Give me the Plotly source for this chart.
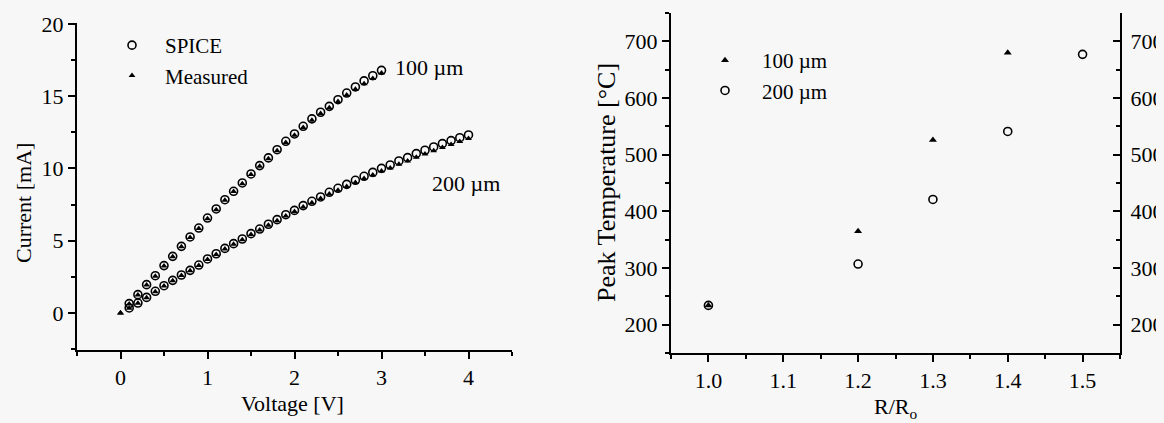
import plotly.graph_objects as go

# ---------------- data: left panel (I-V curves) ----------------
v_spice_100 = [0.1, 0.2, 0.3, 0.4, 0.5, 0.6, 0.7, 0.8, 0.9, 1.0,
               1.1, 1.2, 1.3, 1.4, 1.5, 1.6, 1.7, 1.8, 1.9, 2.0,
               2.1, 2.2, 2.3, 2.4, 2.5, 2.6, 2.7, 2.8, 2.9, 3.0]
i_spice_100 = [0.65, 1.27, 1.96, 2.58, 3.28, 3.92, 4.61, 5.26, 5.88, 6.57,
               7.20, 7.84, 8.42, 9.00, 9.62, 10.20, 10.73, 11.30, 11.88, 12.39,
               12.92, 13.43, 13.89, 14.30, 14.76, 15.22, 15.64, 16.06, 16.42, 16.79]
v_meas_100 = [0.0, 0.1, 0.2, 0.3, 0.4, 0.5, 0.6, 0.7, 0.8, 0.9, 1.0,
              1.1, 1.2, 1.3, 1.4, 1.5, 1.6, 1.7, 1.8, 1.9, 2.0,
              2.1, 2.2, 2.3, 2.4, 2.5, 2.6, 2.7, 2.8, 2.9, 3.0]
i_meas_100 = [0.0, 0.62, 1.25, 1.93, 2.55, 3.25, 3.90, 4.58, 5.22, 5.85, 6.52,
              7.15, 7.80, 8.40, 8.95, 9.58, 10.15, 10.68, 11.22, 11.80, 12.30,
              12.84, 13.33, 13.80, 14.20, 14.64, 15.08, 15.48, 15.86, 16.22, 16.60]

v_spice_200 = [0.1, 0.2, 0.3, 0.4, 0.5, 0.6, 0.7, 0.8, 0.9, 1.0,
               1.1, 1.2, 1.3, 1.4, 1.5, 1.6, 1.7, 1.8, 1.9, 2.0,
               2.1, 2.2, 2.3, 2.4, 2.5, 2.6, 2.7, 2.8, 2.9, 3.0,
               3.1, 3.2, 3.3, 3.4, 3.5, 3.6, 3.7, 3.8, 3.9, 4.0]
i_spice_200 = [0.35, 0.69, 1.08, 1.50, 1.89, 2.26, 2.63, 2.95, 3.32, 3.74,
               4.10, 4.47, 4.80, 5.12, 5.49, 5.81, 6.14, 6.46, 6.80, 7.10,
               7.43, 7.73, 8.03, 8.35, 8.63, 8.90, 9.18, 9.46, 9.73, 10.01,
               10.24, 10.52, 10.75, 11.03, 11.26, 11.49, 11.72, 11.93, 12.13, 12.32]
v_meas_200 = [0.0, 0.1, 0.2, 0.3, 0.4, 0.5, 0.6, 0.7, 0.8, 0.9, 1.0,
              1.1, 1.2, 1.3, 1.4, 1.5, 1.6, 1.7, 1.8, 1.9, 2.0,
              2.1, 2.2, 2.3, 2.4, 2.5, 2.6, 2.7, 2.8, 2.9, 3.0,
              3.1, 3.2, 3.3, 3.4, 3.5, 3.6, 3.7, 3.8, 3.9, 4.0]
i_meas_200 = [0.0, 0.33, 0.68, 1.06, 1.47, 1.86, 2.23, 2.60, 2.92, 3.28, 3.70,
              4.05, 4.42, 4.75, 5.07, 5.43, 5.75, 6.07, 6.38, 6.72, 7.02,
              7.34, 7.63, 7.92, 8.23, 8.50, 8.76, 9.03, 9.30, 9.55, 9.82,
              10.04, 10.30, 10.52, 10.78, 11.00, 11.22, 11.45, 11.66, 11.86, 12.07]

left_xticks = [0, 1, 2, 3, 4]
left_yticks = [0, 5, 10, 15, 20]

# ---------------- data: right panel (peak temperature) ----------------
ratio_100 = [1.0, 1.2, 1.3, 1.4]
temp_100 = [234, 365, 526, 680]
ratio_200 = [1.0, 1.2, 1.3, 1.4, 1.5]
temp_200 = [234, 307, 421, 541, 677]

right_xticks = [1.0, 1.1, 1.2, 1.3, 1.4, 1.5]
right_xticklabels = ["1.0", "1.1", "1.2", "1.3", "1.4", "1.5"]
right_yticks = [200, 300, 400, 500, 600, 700]

FONT = "Liberation Serif, Times New Roman, serif"
BG = "#f7f7f7"
W, H = 1164, 423
OFF = 8  # page body margin: figure is drawn 8 px right/down in the window

fig = go.Figure()

circle = dict(symbol="circle-open", size=8, color="black", line=dict(width=1.6, color="black"))
tri = dict(symbol="triangle-up", size=6, color="black")

fig.add_trace(go.Scatter(x=v_spice_100, y=i_spice_100, mode="markers", marker=circle,
                         name="SPICE", legend="legend", xaxis="x", yaxis="y"))
fig.add_trace(go.Scatter(x=v_spice_200, y=i_spice_200, mode="markers", marker=circle,
                         name="SPICE", showlegend=False, xaxis="x", yaxis="y"))
fig.add_trace(go.Scatter(x=v_meas_100, y=i_meas_100, mode="markers", marker=tri,
                         name="Measured", legend="legend", xaxis="x", yaxis="y"))
fig.add_trace(go.Scatter(x=v_meas_200, y=i_meas_200, mode="markers", marker=tri,
                         name="Measured", showlegend=False, xaxis="x", yaxis="y"))

fig.add_trace(go.Scatter(x=ratio_100, y=temp_100, mode="markers",
                         marker=dict(symbol="triangle-up", size=7, color="black"),
                         name="100 µm", legend="legend2", xaxis="x2", yaxis="y2"))
fig.add_trace(go.Scatter(x=ratio_200, y=temp_200, mode="markers",
                         marker=dict(symbol="circle-open", size=8, color="black",
                                     line=dict(width=1.6, color="black")),
                         name="200 µm", legend="legend2", xaxis="x2", yaxis="y2"))
# invisible trace so the mirrored right-hand axis is drawn
fig.add_trace(go.Scatter(x=[ratio_200[0]], y=[temp_200[0]], mode="markers",
                         marker=dict(opacity=0), showlegend=False, hoverinfo="skip",
                         xaxis="x2", yaxis="y3"))

def px_x(p):
    return (p - OFF) / W

def px_y(p):
    return 1 - (p - OFF) / H

axis_common = dict(showline=True, linecolor="black", linewidth=2, ticks="outside",
                   tickcolor="black", tickwidth=2, ticklen=7, showgrid=False, zeroline=False,
                   automargin=False,
                   tickfont=dict(family=FONT, size=22, color="black"))

fig.update_layout(
    width=W, height=H,
    margin=dict(l=0, r=0, t=0, b=0, autoexpand=False),
    paper_bgcolor=BG, plot_bgcolor=BG,
    font=dict(family=FONT, size=22, color="black"),
    xaxis=dict(axis_common, domain=[px_x(77), px_x(512)], range=[-0.5, 4.5],
               tickvals=left_xticks, anchor="y",
               minor=dict(dtick=0.5, ticks="outside", ticklen=4, tickcolor="black", tickwidth=1.5)),
    yaxis=dict(axis_common, domain=[px_y(350), px_y(22.5)], range=[-2.56, 20.1],
               tickvals=left_yticks, anchor="x",
               minor=dict(dtick=2.5, ticks="outside", ticklen=4, tickcolor="black", tickwidth=1.5)),
    xaxis2=dict(axis_common, domain=[px_x(671), px_x(1120)], range=[0.95, 1.55],
                tickvals=right_xticks, ticktext=right_xticklabels, anchor="y2",
                minor=dict(dtick=0.05, ticks="outside", ticklen=4, tickcolor="black", tickwidth=1.5)),
    yaxis2=dict(axis_common, domain=[px_y(353), px_y(13)], range=[150, 750],
                tickvals=right_yticks, anchor="x2",
                minor=dict(dtick=50, ticks="outside", ticklen=4, tickcolor="black", tickwidth=1.5)),
    yaxis3=dict(axis_common, overlaying="y2", side="right", anchor="x2",
                range=[150, 750], tickvals=right_yticks, ticks="inside",
                ticklabelstandoff=4,
                minor=dict(dtick=50, ticks="inside", ticklen=4, tickcolor="black", tickwidth=1.5)),
    legend=dict(x=px_x(99), y=px_y(25), xanchor="left", yanchor="top",
                bgcolor="rgba(0,0,0,0)", font=dict(family=FONT, size=21, color="black"),
                itemwidth=56, tracegroupgap=0),
    legend2=dict(x=px_x(688), y=px_y(40), xanchor="left", yanchor="top",
                 bgcolor="rgba(0,0,0,0)", font=dict(family=FONT, size=21, color="black"),
                 itemwidth=64, tracegroupgap=0),
    showlegend=True,
)

annotations = [
    dict(text="100 µm", x=px_x(393), y=px_y(68), xanchor="left", yanchor="middle"),
    dict(text="200 µm", x=px_x(430), y=px_y(183), xanchor="left", yanchor="middle"),
    dict(text="Current [mA]", x=px_x(23), y=px_y(203), xanchor="center", yanchor="middle",
         textangle=-90),
    dict(text="Voltage [V]", x=px_x(292), y=px_y(403), xanchor="center", yanchor="middle"),
    dict(text="Peak Temperature [°C]", x=px_x(606), y=px_y(183), xanchor="center",
         yanchor="middle", textangle=-90, font=dict(family=FONT, size=26, color="black")),
    dict(text="R/R<sub>o</sub>", x=px_x(895), y=px_y(408), xanchor="center", yanchor="middle"),
]
for a in annotations:
    a.setdefault("font", dict(family=FONT, size=22, color="black"))
    fig.add_annotation(xref="paper", yref="paper", showarrow=False, **a)

fig.write_html(
    "out.html",
    post_script="document.documentElement.style.background='%s';"
                "document.body.style.background='%s';" % (BG, BG),
)
